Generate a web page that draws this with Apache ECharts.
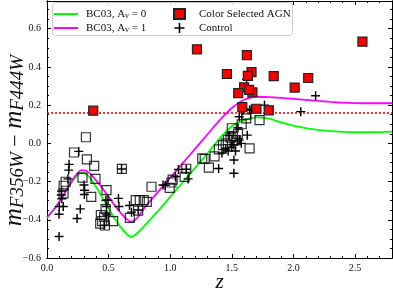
<!DOCTYPE html>
<html><head><meta charset="utf-8">
<script src="https://cdn.jsdelivr.net/npm/echarts@6/dist/echarts.min.js"></script>
<style>html,body{margin:0;padding:0;background:#fff}#c{width:393px;height:293px}</style>
</head><body><div id="c"></div>
<script>
// redshift grid for model tracks
const zGrid = [0,0.05,0.1,0.15,0.2,0.25,0.28,0.32,0.36,0.4,0.45,0.5,0.55,0.6,0.65,0.68,0.72,0.8,0.9,1.0,1.1,1.2,1.3,1.4,1.5,1.6,1.7,1.8,1.9,2.0,2.1,2.2,2.3,2.4,2.5,2.6,2.7,2.8];
// BC03, Av = 0 (green)
const bc03Av0 = [-0.39,-0.352,-0.308,-0.256,-0.205,-0.165,-0.155,-0.162,-0.19,-0.23,-0.285,-0.34,-0.395,-0.44,-0.476,-0.49,-0.477,-0.425,-0.355,-0.28,-0.205,-0.13,-0.055,0.025,0.09,0.122,0.136,0.13,0.11,0.093,0.08,0.071,0.065,0.06,0.058,0.058,0.059,0.061];
// BC03, Av = 1 (magenta)
const bc03Av1 = [-0.386,-0.35,-0.305,-0.252,-0.198,-0.155,-0.14,-0.145,-0.165,-0.195,-0.235,-0.28,-0.325,-0.365,-0.398,-0.41,-0.398,-0.33,-0.255,-0.18,-0.105,-0.03,0.045,0.12,0.185,0.228,0.244,0.242,0.238,0.233,0.228,0.222,0.217,0.213,0.211,0.21,0.21,0.21];
// Color selected AGN [z, colour]
const agnZ = [0.375,1.217,1.622,1.46,1.66,1.63,1.84,2.12,2.01,2.56,1.60,1.552,1.667,1.64,1.585,1.70,1.80];
const agnC = [0.171,0.492,0.462,0.363,0.373,0.353,0.352,0.342,0.292,0.532,0.293,0.263,0.267,0.28,0.19,0.181,0.173];
// Control sample
const ctrlZ = [0.258,0.179,0.176,0.17,0.118,0.116,0.12,0.132,0.10,0.098,0.098,0.30,0.305,0.303,0.27,0.244,0.478,0.495,0.483,0.485,0.464,0.58,0.584,0.605,0.67,0.686,0.74,0.942,0.96,1.042,1.067,1.145,1.13,1.393,1.517,1.517,1.517,1.48,1.544,1.56,1.55,1.56,1.625,1.59,1.59,1.657,1.644,1.67,1.62,1.765,2.06,2.18,1.45,1.47,1.42,1.5,1.53,1.577];
const ctrlC = [-0.042,-0.11,-0.14,-0.186,-0.25,-0.27,-0.29,-0.33,-0.33,-0.371,-0.487,-0.218,-0.245,-0.268,-0.343,-0.393,-0.298,-0.297,-0.33,-0.375,-0.428,-0.288,-0.33,-0.134,-0.325,-0.36,-0.349,-0.218,-0.22,-0.173,-0.137,-0.186,-0.136,-0.132,-0.087,-0.156,-0.009,0.043,0.014,0.017,0.082,0.139,0.043,0.172,0.183,0.178,0.174,0.275,0.335,0.20,0.166,0.249,-0.03,-0.04,-0.05,-0.02,-0.04,0.0];
// Other (open squares)
const openZ = [0.316,0.219,0.324,0.383,0.608,0.151,0.135,0.134,0.288,0.394,0.359,0.483,0.475,0.437,0.464,0.448,0.432,0.47,0.537,0.672,0.72,0.753,0.785,0.81,0.74,0.848,0.996,1.01,1.02,1.13,1.117,1.26,1.28,1.314,1.36,1.395,1.428,1.468,1.508,1.535,1.5,1.617,1.725,1.617,1.644,1.45,1.49,1.55,1.58];
const openC = [0.032,-0.048,-0.084,-0.118,-0.134,-0.201,-0.222,-0.262,-0.179,-0.186,-0.28,-0.245,-0.344,-0.375,-0.384,-0.407,-0.42,-0.43,-0.407,-0.39,-0.297,-0.297,-0.297,-0.306,-0.352,-0.227,-0.233,-0.205,-0.19,-0.133,-0.175,-0.079,-0.082,-0.127,-0.068,-0.031,-0.009,0.017,0.038,0.017,0.079,0.131,0.122,0.15,-0.026,0.0,0.03,0.05,0.1];
const threshold = 0.16;
const xRange = [0, 2.8];
const yRange = [-0.6, 0.745];

const F = 'Liberation Serif';
const zip = (a, b) => a.map((v, i) => [v, b[i]]);
const plusPath = 'path://M4.2,0H5.8V4.2H10V5.8H5.8V10H4.2V5.8H0V4.2H4.2Z';
const linePath = 'path://M0,0H24V2H0Z';

const chart = echarts.init(document.getElementById('c'), null, {renderer: 'canvas'});
const baseX = {type: 'value', min: xRange[0], max: xRange[1], splitLine: {show: false},
  axisLine: {show: true, onZero: false, lineStyle: {color: '#000', width: 1}}};
const baseY = {type: 'value', min: yRange[0], max: yRange[1], splitLine: {show: false},
  axisLine: {show: true, onZero: false, lineStyle: {color: '#000', width: 1}}};
const fmt = v => (v < 0 ? '\u2212' : '') + Math.abs(v).toFixed(1);

const option = {
  animation: false,
  backgroundColor: '#fff',
  grid: {left: 47, top: 1, width: 345, height: 257, containLabel: false, outerBoundsMode: 'none'},
  xAxis: [
    Object.assign({}, baseX, {position: 'bottom', interval: 0.5,
      axisTick: {inside: true, length: 4, lineStyle: {color: '#000'}},
      axisLabel: {fontFamily: F, fontSize: 10, color: '#111', margin: 5, showMaxLabel: false, formatter: v => v.toFixed(1)},
      name: 'z', nameLocation: 'middle', nameGap: 14, nameMoveOverlap: false,
      nameTextStyle: {fontFamily: F, fontStyle: 'italic', fontSize: 21, color: '#111'}}),
    Object.assign({}, baseX, {position: 'bottom', interval: 0.1,
      axisTick: {inside: true, length: 2, lineStyle: {color: '#000'}}, axisLabel: {show: false}}),
    Object.assign({}, baseX, {position: 'top', interval: 0.5,
      axisTick: {inside: true, length: 4, lineStyle: {color: '#000'}}, axisLabel: {show: false}}),
    Object.assign({}, baseX, {position: 'top', interval: 0.1,
      axisTick: {inside: true, length: 2, lineStyle: {color: '#000'}}, axisLabel: {show: false}})
  ],
  yAxis: [
    Object.assign({}, baseY, {position: 'left', interval: 0.2,
      axisTick: {inside: true, length: 4, lineStyle: {color: '#000'}},
      axisLabel: {fontFamily: F, fontSize: 10, color: '#111', margin: 6, showMaxLabel: false, formatter: fmt},
      name: '{m|m}{s|F356W}{t| \u2212 }{m|m}{s|F444W}', nameLocation: 'middle', nameGap: 20, nameRotate: 90,
      nameMoveOverlap: false,
      nameTextStyle: {fontFamily: F, color: '#111', padding: [0, 22, 0, 0], rich: {
        m: {fontFamily: F, fontStyle: 'italic', fontSize: 25, lineHeight: 24, verticalAlign: 'bottom'},
        s: {fontFamily: F, fontStyle: 'italic', fontSize: 19, lineHeight: 20, verticalAlign: 'bottom'},
        t: {fontFamily: F, fontSize: 22, lineHeight: 24, verticalAlign: 'bottom'}
      }}}),
    Object.assign({}, baseY, {position: 'left', interval: 0.05,
      axisTick: {inside: true, length: 2, lineStyle: {color: '#000'}}, axisLabel: {show: false}}),
    Object.assign({}, baseY, {position: 'right', interval: 0.2,
      axisTick: {inside: true, length: 4, lineStyle: {color: '#000'}}, axisLabel: {show: false}}),
    Object.assign({}, baseY, {position: 'right', interval: 0.05,
      axisTick: {inside: true, length: 2, lineStyle: {color: '#000'}}, axisLabel: {show: false}})
  ],
  graphic: [{type: 'rect', z: 50, shape: {x: 52.5, y: 2.5, width: 240, height: 33, r: 3},
    style: {fill: 'rgba(255,255,255,0.85)', stroke: '#cccccc', lineWidth: 1}}],
  legend: [
    {z: 60, left: 54, top: 8, orient: 'vertical', itemGap: 2, itemWidth: 24, itemHeight: 10, padding: 0,
     textStyle: {fontFamily: F, fontSize: 11, lineHeight: 12, color: '#111', padding: [0, 0, 0, 3],
       rich: {s: {fontFamily: F, fontSize: 8, lineHeight: 12, verticalAlign: 'bottom'}}},
     formatter: n => n === 'av0' ? 'BC03, A{s|v} = 0' : 'BC03, A{s|v} = 1',
     data: [{name: 'av0', icon: linePath}, {name: 'av1', icon: linePath}]},
    {z: 60, left: 173, top: 8, orient: 'vertical', itemGap: 2, itemWidth: 11, itemHeight: 10, padding: 0,
     textStyle: {fontFamily: F, fontSize: 11, lineHeight: 12, color: '#111', padding: [0, 0, 0, 9]},
     data: [{name: 'Color Selected AGN', icon: 'rect'}, {name: 'Control', icon: plusPath}]}
  ],
  series: [
    {name: 'av0', type: 'line', data: zip(zGrid, bc03Av0), symbol: 'none', smooth: 0.3, z: 2,
     lineStyle: {color: '#00ff00', width: 1.8}, itemStyle: {color: '#00ff00'},
     markLine: {silent: true, symbol: 'none', label: {show: false}, z: 1,
       lineStyle: {color: '#ff0000', type: [2, 2], width: 1.6}, data: [{yAxis: threshold}]}},
    {name: 'av1', type: 'line', data: zip(zGrid, bc03Av1), symbol: 'none', smooth: 0.3, z: 2,
     lineStyle: {color: '#ff00ff', width: 1.8}, itemStyle: {color: '#ff00ff'}},
    {name: 'other', type: 'scatter', data: zip(openZ, openC), symbol: 'rect', symbolSize: 9, z: 3,
     itemStyle: {color: 'rgba(0,0,0,0)', borderColor: '#000', borderWidth: 1.2}},
    {name: 'Control', type: 'scatter', data: zip(ctrlZ, ctrlC), symbol: plusPath, symbolSize: 9, z: 4,
     itemStyle: {color: '#000', opacity: 1}},
    {name: 'Color Selected AGN', type: 'scatter', data: zip(agnZ, agnC), symbol: 'rect', symbolSize: 9, z: 5,
     itemStyle: {color: '#ff0000', borderColor: '#222', borderWidth: 1.2, opacity: 1}}
  ]
};
chart.setOption(option);
</script></body></html>
